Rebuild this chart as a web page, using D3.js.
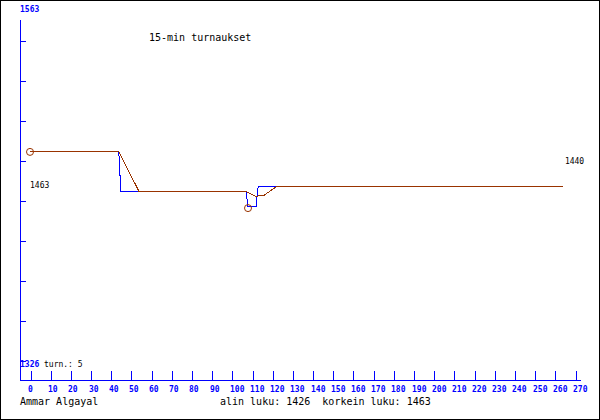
<!DOCTYPE html>
<html><head><meta charset="utf-8">
<script src="https://cdn.jsdelivr.net/npm/d3@7/dist/d3.min.js"></script>
<style>
html,body{margin:0;padding:0;background:#fff;}
svg{display:block;}
text{font-family:"DejaVu Sans Mono",monospace;white-space:pre;}
</style></head>
<body>
<script>
// ---- data ----
const title = "15-min turnaukset";
const author = "Ammar Algayal";
const summary = "alin luku: 1426  korkein luku: 1463";
const tournamentsLabel = "turn.: 5";
const yMin = 1326, yMax = 1563;
const minValue = 1426, maxValue = 1463, lastValue = 1440;
const xTickValues = [0,10,20,30,40,50,60,70,80,90,100,110,120,130,140,150,160,170,180,190,200,210,220,230,240,250,260,270];
// rating (blue) breakpoints
const ratingGames  = [0, 44, 45, 107, 108, 112, 113, 264];
const ratingValues = [1463, 1463, 1437, 1437, 1427, 1427, 1440, 1440];
// average (brown) breakpoints
const avgGames  = [0, 44, 54, 107, 112, 114, 116, 122, 264];
const avgValues = [1463, 1463, 1437, 1437, 1433.5, 1434.5, 1434.5, 1440, 1440];
// markers: max at start, min in dip
const markerGames  = [0, 108];
const markerValues = [maxValue, minValue];

const W = 600, H = 420;
const BLUE = "#0000ff", BROWN = "#993300";

const svg = d3.select("body").append("svg").attr("width", W).attr("height", H);
svg.append("rect").attr("x",0.5).attr("y",0.5).attr("width",W-1).attr("height",H-1)
  .attr("fill","#fff").attr("stroke","#000").attr("stroke-width",1);

const x = d3.scaleLinear().domain([0, 270]).range([30, 575]);
const y = d3.scaleLinear().domain([yMin, yMax]).range([360, 0]);

// Y axis
svg.append("line").attr("x1",20.5).attr("x2",20.5).attr("y1",20).attr("y2",380.5)
  .attr("stroke",BLUE).attr("stroke-width",1).attr("shape-rendering","crispEdges");
const yTicks = d3.range(9).map(k => yMin + k*(yMax-yMin)/9);
const yAxis = d3.axisRight(y).tickValues(yTicks).tickSize(5).tickFormat("");
const gy = svg.append("g").attr("transform","translate(20.5,0.5)").call(yAxis);
gy.select(".domain").remove();
gy.selectAll("line").attr("stroke",BLUE).attr("shape-rendering","crispEdges");

// X axis
const xAxis = d3.axisTop(x).tickValues(xTickValues).tickSize(10).tickFormat("");
const gx = svg.append("g").attr("transform","translate(0.5,380.5)").call(xAxis);
gx.select(".domain").remove();
gx.selectAll("line").attr("stroke",BLUE).attr("shape-rendering","crispEdges");
svg.append("line").attr("x1",20).attr("x2",581).attr("y1",380.5).attr("y2",380.5)
  .attr("stroke",BLUE).attr("stroke-width",1).attr("shape-rendering","crispEdges");
svg.append("g").selectAll("text").data(xTickValues).join("text")
  .attr("x", d => Math.round(x(d)) - 2).attr("y", 392)
  .attr("font-size", 8).attr("font-weight","bold").attr("fill",BLUE)
  .text(d => d);

// Y labels
svg.append("text").attr("x",20).attr("y",y(yMax)+12).attr("font-size",8)
  .attr("font-weight","bold").attr("fill",BLUE).text(yMax);
svg.append("text").attr("x",20).attr("y",y(yMin)+7).attr("font-size",8)
  .attr("font-weight","bold").attr("fill",BLUE).text(yMin);
svg.append("text").attr("x",44).attr("y",y(yMin)+7).attr("font-size",8)
  .attr("fill","#000").text(tournamentsLabel);

// lines
const line = d3.line().x(d => x(d[0])).y(d => y(d[1]));
svg.append("path").datum(ratingGames.map((g,i)=>[g, ratingValues[i]]))
  .attr("d", line).attr("fill","none").attr("stroke",BLUE).attr("stroke-width",1)
  .attr("shape-rendering","crispEdges");
svg.append("path").datum(avgGames.map((g,i)=>[g, avgValues[i]]))
  .attr("d", line).attr("fill","none").attr("stroke",BROWN).attr("stroke-width",1)
  .attr("shape-rendering","crispEdges");

svg.append("g").selectAll("circle").data(markerGames).join("circle")
  .attr("cx", (d)=>x(d)).attr("cy", (d,i)=>y(markerValues[i]))
  .attr("r",3.5).attr("fill","none").attr("stroke",BROWN).attr("stroke-width",1);

// value labels
svg.append("text").attr("x",x(0)).attr("y",y(maxValue)+36).attr("font-size",8)
  .attr("fill","#000").text(maxValue);
svg.append("text").attr("x",x(264)+2).attr("y",y(lastValue)-23).attr("font-size",8)
  .attr("fill","#000").text(lastValue);

// title & footer
svg.append("text").attr("x",149).attr("y",41).attr("font-size",10).attr("fill","#000").text(title);
svg.append("text").attr("x",20).attr("y",405).attr("font-size",10).attr("fill","#000").text(author);
svg.append("text").attr("x",220).attr("y",405).attr("font-size",10).attr("fill","#000").text(summary);
</script>
</body></html>
